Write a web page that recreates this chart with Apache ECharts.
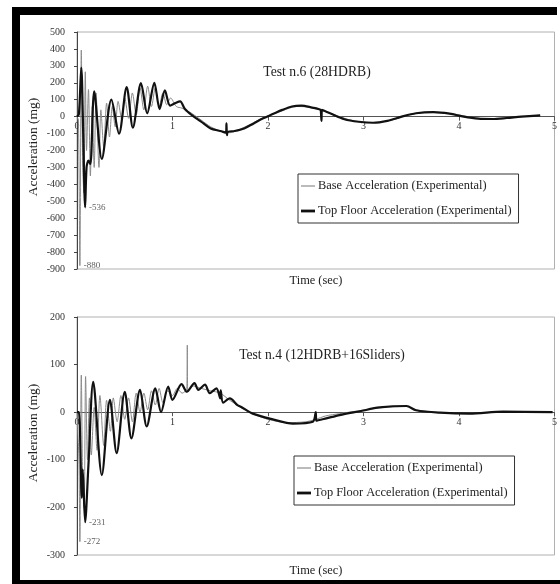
<!DOCTYPE html>
<html>
<head>
<meta charset="utf-8">
<script src="https://cdn.jsdelivr.net/npm/echarts@6/dist/echarts.min.js"></script>
<style>
  html, body { margin: 0; padding: 0; background: #fff; }
  #main { width: 560px; height: 584px; }
</style>
</head>
<body>
<div id="main"></div>
<script>
// ---------- Data ----------
const seriesNames = ['Base Acceleration (Experimental)', 'Top Floor Acceleration (Experimental)'];
const titleTop = 'Test n.6 (28HDRB)';
const titleBottom = 'Test n.4 (12HDRB+16Sliders)';
const yAxisTitle = 'Acceleration (mg)';
const xAxisTitle = 'Time (sec)';
const xTicks = [0, 1, 2, 3, 4, 5];
const yRangeTop = [-900, 500];
const yRangeBottom = [-300, 200];

// Test n.6 - base acceleration (gray)
const t6Base = [0, 0.015, 0.03, 0.045, 0.06, 0.072, 0.087, 0.10, 0.12, 0.14, 0.16, 0.18, 0.20, 0.23, 0.25, 0.28, 0.31, 0.34, 0.37, 0.40, 0.43, 0.47, 0.50, 0.54, 0.58, 0.62, 0.66, 0.70, 0.74, 0.78, 0.82, 0.86, 0.90, 0.94, 0.98, 1.04, 1.10, 1.20, 1.30, 1.40, 1.50, 1.60, 1.70, 1.80, 1.90, 2.00, 2.15, 2.30, 2.45, 2.55, 2.70, 2.90, 3.10, 3.30, 3.50, 3.73, 3.95, 4.20, 4.40, 4.60, 4.85];
const a6Base = [0, -20, -880, 393, -300, -450, 265, -200, 160, -350, 60, -300, 140, -300, 40, -180, 80, -120, 60, -60, 90, -20, 110, -10, 140, 10, 170, 40, 180, 60, 170, 60, 140, 70, 110, 60, 50, 20, -20, -60, -85, -95, -75, -50, -20, 5, 35, 60, 55, 40, 10, -25, -35, -20, 15, 27, 15, -10, -13, -3, 8];

// Test n.6 - top floor acceleration (black)
const t6Top = [0, 0.02, 0.045, 0.065, 0.085, 0.10, 0.12, 0.14, 0.18, 0.26, 0.36, 0.44, 0.52, 0.585, 0.67, 0.735, 0.81, 0.865, 0.92, 0.975, 1.03, 1.08, 1.13, 1.20, 1.30, 1.40, 1.50, 1.56, 1.565, 1.57, 1.58, 1.65, 1.75, 1.85, 1.95, 2.05, 2.15, 2.25, 2.35, 2.45, 2.55, 2.555, 2.56, 2.565, 2.65, 2.80, 2.95, 3.10, 3.25, 3.40, 3.55, 3.73, 3.90, 4.05, 4.20, 4.35, 4.50, 4.65, 4.85];
const a6Top = [0, 15, 290, -100, -536, -300, -260, -280, 150, -250, 100, -100, 175, -65, 198, 20, 200, 45, 155, 65, 80, 90, 45, 10, -30, -70, -85, -95, -40, -110, -90, -85, -70, -40, -10, 15, 40, 60, 65, 55, 40, 20, -25, 40, 20, -15, -30, -36, -25, 0, 20, 27, 18, 0, -12, -14, -8, 0, 8];

// Test n.4 - base acceleration (gray)
const t4Base = [0, 0.02, 0.03, 0.045, 0.06, 0.075, 0.09, 0.11, 0.13, 0.15, 0.18, 0.21, 0.24, 0.28, 0.31, 0.35, 0.38, 0.42, 0.46, 0.50, 0.54, 0.58, 0.62, 0.66, 0.70, 0.74, 0.78, 0.82, 0.86, 0.90, 0.95, 1.00, 1.05, 1.10, 1.15, 1.155, 1.16, 1.22, 1.30, 1.40, 1.50, 1.60, 1.70, 1.80, 1.90, 2.00, 2.20, 2.40, 2.50, 2.60, 2.75, 2.95, 3.20, 3.45, 3.55, 3.80, 4.10, 4.50, 4.98];
const a4Base = [0, -100, -272, 78, -150, -200, 75, -100, 30, -90, 10, -80, 35, -70, 25, -40, 30, -20, 35, -15, 30, -20, 40, 0, 40, 5, 45, 15, 50, 20, 45, 35, 50, 40, 50, 141, 45, 55, 50, 45, 40, 25, 12, 0, -8, -15, -22, -20, -15, -8, -3, 3, 10, 12, 5, -1, -3, 1, 0];

// Test n.4 - top floor acceleration (black)
const t4Top = [0, 0.02, 0.05, 0.06, 0.085, 0.12, 0.17, 0.26, 0.345, 0.415, 0.50, 0.57, 0.66, 0.73, 0.82, 0.88, 0.955, 1.00, 1.095, 1.15, 1.23, 1.27, 1.34, 1.39, 1.46, 1.50, 1.505, 1.53, 1.60, 1.68, 1.72, 1.84, 2.05, 2.26, 2.47, 2.50, 2.505, 2.61, 2.75, 2.96, 3.17, 3.45, 3.55, 3.80, 4.11, 4.46, 4.98];
const a4Top = [0, 0, -180, -120, -231, -110, 64, -132, 26, -86, 43, -55, 47, -30, 50, 0, 54, 26, 59, 43, 61, 47, 58, 40, 50, 29, 46, 20, 29, 15, 11, -3, -15, -24, -20, 0, -18, -13, -6, 2, 10, 13, 4, -1, -3, 1, 0];

// Annotated extreme values
const notesTop = [[0.085, -536], [0.03, -880]];
const notesBottom = [[0.085, -231], [0.03, -272]];

// ---------- Helpers ----------
function pairs(t, a) { return t.map((v, i) => [v, a[i]]); }

const FONT = 'Liberation Serif';
const gray = '#8a8a8a';
const black = '#111111';

const grids = [
  { left: 77, top: 32, width: 478, height: 237 },
  { left: 77, top: 317, width: 478, height: 238 }
];
const ranges = [yRangeTop, yRangeBottom];

function xAxisCfg(gi) {
  const r = ranges[gi];
  // put the x axis (line, ticks, labels) on the zero line of the y axis
  const off = -grids[gi].height * (0 - r[0]) / (r[1] - r[0]);
  return {
    type: 'value', gridIndex: gi, min: xTicks[0], max: xTicks[xTicks.length - 1], interval: 1,
    offset: off,
    axisLine: { onZero: false, lineStyle: { color: '#555', width: 1 } },
    axisTick: { show: true, length: 4, lineStyle: { color: '#555' } },
    axisLabel: { color: '#333', fontSize: 10, fontFamily: FONT, margin: 5 },
    splitLine: { show: false }
  };
}
function yAxisCfg(gi) {
  const r = ranges[gi];
  return {
    type: 'value', gridIndex: gi, min: r[0], max: r[1], interval: 100,
    axisLine: { show: true, onZero: false, lineStyle: { color: '#444', width: 1 } },
    axisTick: { show: true, length: 3, lineStyle: { color: '#444' } },
    axisLabel: { color: '#333', fontSize: 10, fontFamily: FONT, margin: 12 },
    splitLine: { show: false }
  };
}
function lineSeries(name, gi, data, color, width, z) {
  return {
    name: name, type: 'line', xAxisIndex: gi, yAxisIndex: gi, data: data,
    symbol: 'none', smooth: 0.3, animation: false, z: z,
    lineStyle: { color: color, width: width },
    itemStyle: { color: color }
  };
}
function legendCfg(left, top) {
  return {
    orient: 'vertical', left: left, top: top,
    data: [
      { name: seriesNames[0], icon: 'path://M0 0H12V1H0Z' },
      { name: seriesNames[1], icon: 'path://M0 0H12V2.4H0Z' }
    ],
    borderColor: '#333', borderWidth: 1,
    padding: [6, 7, 6, 3], itemGap: 13,
    itemWidth: 14, itemHeight: 10,
    textStyle: { color: '#222', fontSize: 12.4, fontFamily: FONT, padding: [0, 0, 0, -2] },
    selectedMode: false
  };
}
function noteSeries(gi, data) {
  return {
    type: 'scatter', xAxisIndex: gi, yAxisIndex: gi, symbolSize: 0, silent: true, data: data,
    label: { show: true, position: 'right', distance: 4, formatter: p => p.value[1], fontSize: 9, color: '#333', fontFamily: FONT }
  };
}
function textEl(text, x, y, size, rotate) {
  return {
    type: 'text', x: x, y: y, rotation: rotate || 0,
    style: { text: text, fill: '#222', font: size + 'px "' + FONT + '"', textAlign: 'center', textVerticalAlign: 'middle' }
  };
}

const chart = echarts.init(document.getElementById('main'), null, { renderer: 'canvas' });
chart.setOption({
  animation: false,
  backgroundColor: '#fff',
  grid: grids.map(g => Object.assign({ show: true, borderColor: '#b0b0b0', borderWidth: 1, backgroundColor: 'transparent' }, g)),
  xAxis: [xAxisCfg(0), xAxisCfg(1)],
  yAxis: [yAxisCfg(0), yAxisCfg(1)],
  legend: [legendCfg(298, 174), legendCfg(294, 456)],
  series: [
    lineSeries(seriesNames[0], 0, pairs(t6Base, a6Base), gray, 1, 2),
    lineSeries(seriesNames[1], 0, pairs(t6Top, a6Top), black, 2.2, 3),
    lineSeries(seriesNames[0], 1, pairs(t4Base, a4Base), gray, 1, 2),
    lineSeries(seriesNames[1], 1, pairs(t4Top, a4Top), black, 2.2, 3),
    noteSeries(0, notesTop),
    noteSeries(1, notesBottom)
  ],
  graphic: [
    { type: 'rect', shape: { x: 12, y: 7, width: 545, height: 8 }, style: { fill: '#000' } },
    { type: 'rect', shape: { x: 12, y: 7, width: 8, height: 577 }, style: { fill: '#000' } },
    { type: 'rect', shape: { x: 12, y: 580, width: 548, height: 4 }, style: { fill: '#000' } },
    textEl(titleTop, 317, 72, 13.7),
    textEl(titleBottom, 322, 355, 13.6),
    textEl(xAxisTitle, 316, 281, 12.4),
    textEl(xAxisTitle, 316, 571, 12.4),
    textEl(yAxisTitle, 33, 147, 13.5, Math.PI / 2),
    textEl(yAxisTitle, 33, 433, 13.5, Math.PI / 2)
  ]
});
</script>
</body>
</html>
